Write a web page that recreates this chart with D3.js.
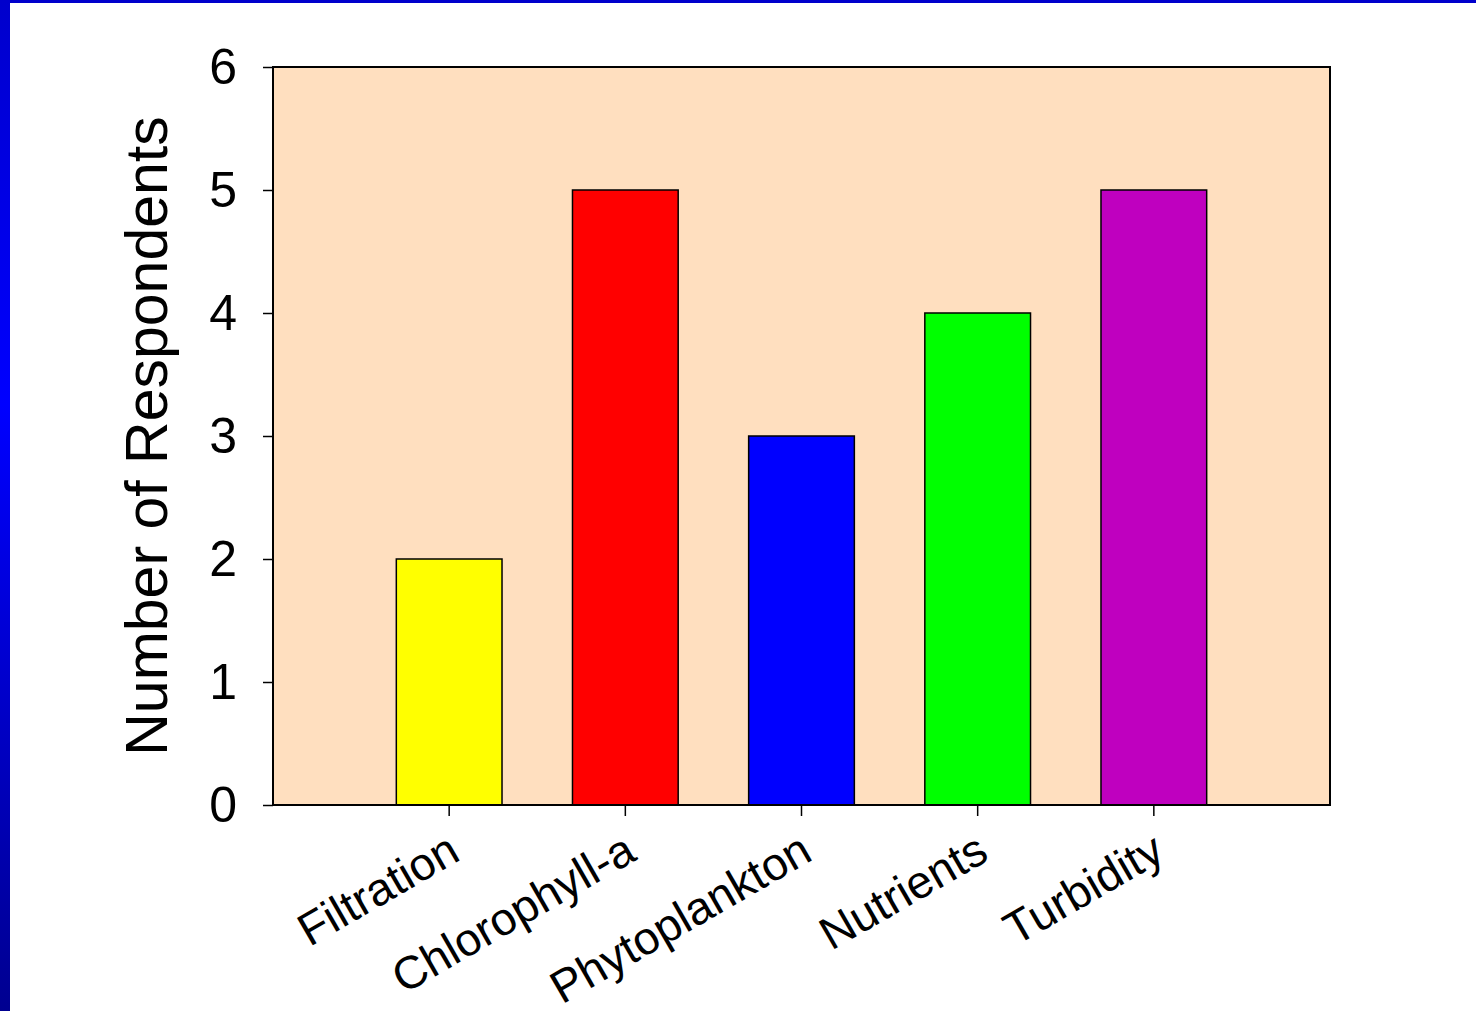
<!DOCTYPE html>
<html>
<head>
<meta charset="utf-8">
<script src="https://cdn.jsdelivr.net/npm/d3@7"></script>
<style>
  html, body { margin: 0; padding: 0; background: #ffffff; }
  svg { display: block; }
</style>
</head>
<body>
<div id="canvas"></div>
<script>
const categories = ["Filtration", "Chlorophyll-a", "Phytoplankton", "Nutrients", "Turbidity"];
const respondents = [2, 5, 3, 4, 5];
const barColors = ["#ffff00", "#ff0000", "#0000ff", "#00ff00", "#bf00bf"];
const yTicks = [0, 1, 2, 3, 4, 5, 6];

const width = 1476;
const height = 1011;
const margin = { top: 67, left: 273, bottom: 206, right: 146 };
const iwidth = width - margin.left - margin.right;
const iheight = height - margin.top - margin.bottom;

const svg = d3.select("#canvas").append("svg")
  .attr("width", width)
  .attr("height", height);

// slide frame: blue strip on the left and along the top
const defs = svg.append("defs");
const grad = defs.append("linearGradient")
  .attr("id", "edge")
  .attr("x1", 0).attr("y1", 0).attr("x2", 0).attr("y2", 1);
grad.append("stop").attr("offset", "0%").attr("stop-color", "#0000cc");
grad.append("stop").attr("offset", "40%").attr("stop-color", "#0000ff");
grad.append("stop").attr("offset", "100%").attr("stop-color", "#000090");

svg.append("rect").attr("x", 0).attr("y", 0).attr("width", 10).attr("height", height).attr("fill", "url(#edge)");
svg.append("rect").attr("x", 0).attr("y", 0).attr("width", width).attr("height", 3).attr("fill", "#0000cc");

const g = svg.append("g")
  .attr("transform", `translate(${margin.left},${margin.top})`);

const x = d3.scaleBand()
  .domain(categories)
  .range([0, iwidth])
  .paddingInner(0.4)
  .paddingOuter(0.7);

const y = d3.scaleLinear().domain([0, 6]).range([iheight, 0]);

g.append("rect")
  .attr("width", iwidth)
  .attr("height", iheight)
  .attr("fill", "#ffdfbf");

g.selectAll("rect.bar")
  .data(categories.map((c, i) => ({ name: c, value: respondents[i], color: barColors[i] })))
  .enter()
  .append("rect")
  .attr("class", "bar")
  .attr("x", (d) => x(d.name))
  .attr("y", (d) => y(d.value))
  .attr("width", x.bandwidth())
  .attr("height", (d) => iheight - y(d.value))
  .attr("fill", (d) => d.color)
  .attr("stroke", "#000")
  .attr("stroke-width", 1.5);

g.append("rect")
  .attr("width", iwidth)
  .attr("height", iheight)
  .attr("fill", "none")
  .attr("stroke", "#000")
  .attr("stroke-width", 2);

const yAxis = g.append("g")
  .call(d3.axisLeft(y).tickValues(yTicks).tickSize(10).tickPadding(26).tickFormat(d3.format("d")));
yAxis.select(".domain").remove();
yAxis.selectAll("line").attr("stroke", "#000").attr("stroke-width", 1.5);
yAxis.selectAll("text")
  .attr("font-family", "'Liberation Sans', Arial, sans-serif")
  .attr("font-size", 50)
  .attr("fill", "#000");

const xAxis = g.append("g")
  .attr("transform", `translate(0,${iheight})`)
  .call(d3.axisBottom(x).tickSize(11).tickFormat(() => ""));
xAxis.select(".domain").remove();
xAxis.selectAll("line").attr("stroke", "#000").attr("stroke-width", 1.5);

xAxis.selectAll(".tick")
  .append("text")
  .attr("text-anchor", "end")
  .attr("transform", "translate(13,54) rotate(-30)")
  .attr("font-family", "'Liberation Sans', Arial, sans-serif")
  .attr("font-size", 46)
  .attr("fill", "#000")
  .text((d) => d);

svg.append("text")
  .attr("transform", `translate(167,${margin.top + iheight / 2}) rotate(-90)`)
  .attr("text-anchor", "middle")
  .attr("font-family", "'Liberation Sans', Arial, sans-serif")
  .attr("font-size", 59)
  .attr("fill", "#000")
  .text("Number of Respondents");
</script>
</body>
</html>
